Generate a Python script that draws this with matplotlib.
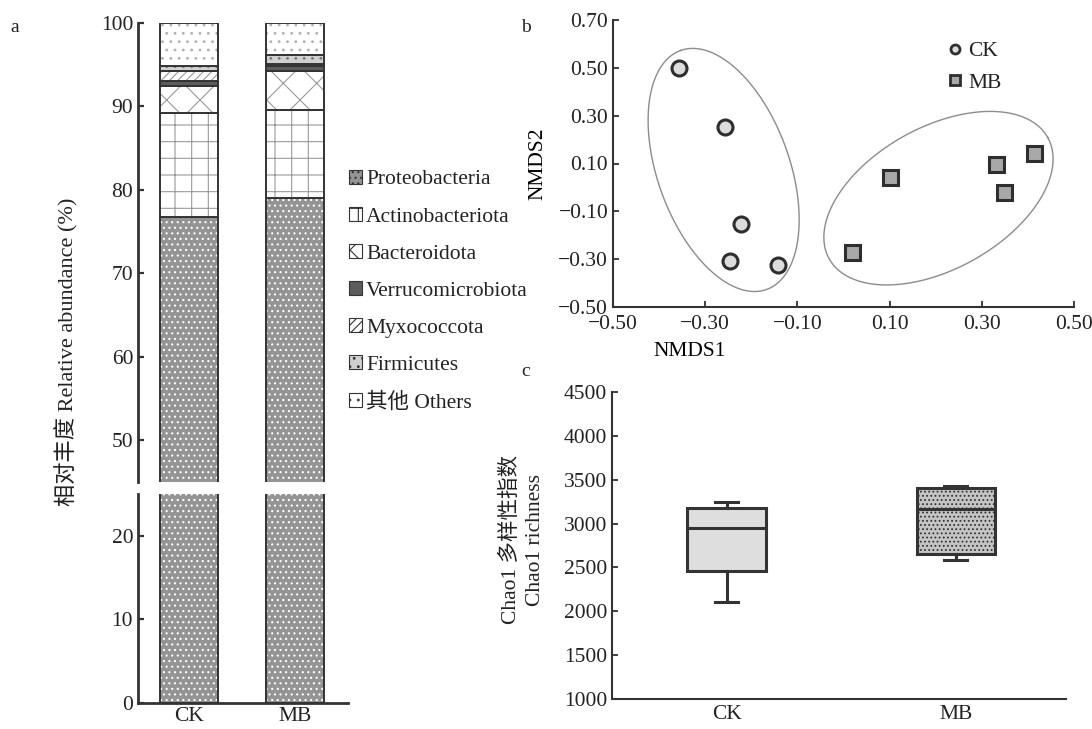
import matplotlib
matplotlib.use('Agg')
import matplotlib.pyplot as plt
import numpy as np
from matplotlib.patches import Patch
from matplotlib.lines import Line2D
from matplotlib.ticker import FuncFormatter

#----------------------------------------------------------------------
# Data
#----------------------------------------------------------------------
groups = ['CK', 'MB']
phyla = ['Proteobacteria', 'Actinobacteriota', 'Bacteroidota',
         'Verrucomicrobiota', 'Myxococcota', 'Firmicutes', '其他 Others']
ck_abund = [76.8, 12.4, 3.3, 0.6, 1.1, 0.7, 5.1]
mb_abund = [79.0, 10.6, 4.6, 0.6, 0.3, 1.1, 3.8]

ck_nmds1 = [-0.356, -0.257, -0.223, -0.247, -0.143]
ck_nmds2 = [0.498, 0.253, -0.155, -0.307, -0.323]
mb_nmds1 = [0.018, 0.101, 0.330, 0.348, 0.413]
mb_nmds2 = [-0.270, 0.044, 0.100, -0.019, 0.145]

chao_whislo = [2104, 2585]
chao_q1 = [2462, 2654]
chao_med = [2950, 3165]
chao_q3 = [3181, 3404]
chao_whishi = [3250, 3423]

#----------------------------------------------------------------------
# General style
#----------------------------------------------------------------------
plt.rcParams['font.family'] = ['Liberation Serif', 'Noto Sans CJK SC']
plt.rcParams['font.size'] = 15.5
plt.rcParams['hatch.linewidth'] = 0.8
plt.rcParams['text.color'] = '#222222'
plt.rcParams['xtick.color'] = '#333333'
plt.rcParams['ytick.color'] = '#333333'
plt.rcParams['xtick.labelcolor'] = '#222222'
plt.rcParams['ytick.labelcolor'] = '#222222'
DARK = '#333333'
FS = 15.5

W, H = 1092, 729
fig = plt.figure(figsize=(W / 100, H / 100), dpi=100)


def fpos(x0, y0, x1, y1):
    # pixel box (top-left origin) -> figure fraction rect
    return [x0 / W, 1 - y1 / H, (x1 - x0) / W, (y1 - y0) / H]


def minus_fmt(v, _):
    return f'{v:.2f}'.replace('-', '\u2212')


#----------------------------------------------------------------------
# (a) stacked bars with broken axis
#----------------------------------------------------------------------
styles = [('#949494', '...', 'white'),
          ('white', '+', '#9a9a9a'),
          ('white', 'x', '#9a9a9a'),
          ('#5c5c5c', '', '#5c5c5c'),
          ('white', '////', '#9a9a9a'),
          ('#d0d0d0', '..', '#7a7a7a'),
          ('white', '..', '#b0b0b0')]

ax_hi = fig.add_axes(fpos(138, 23, 348, 482))
ax_lo = fig.add_axes(fpos(138, 494, 348, 703))
xb = np.arange(len(groups))
abund = np.array([ck_abund, mb_abund])
for ax in (ax_hi, ax_lo):
    bottom = np.zeros(len(groups))
    for i, name in enumerate(phyla):
        face, hatch, hc = styles[i]
        ax.bar(xb, abund[:, i], 0.55, bottom=bottom, color=face, hatch=hatch,
               edgecolor=hc, linewidth=0)
        ax.bar(xb, abund[:, i], 0.55, bottom=bottom, fill=False,
               edgecolor=DARK, linewidth=1.4)
        bottom += abund[:, i]
    ax.set_xlim(-0.48, 1.5)
    for s in ('top', 'right'):
        ax.spines[s].set_visible(False)
    for s in ('left', 'bottom'):
        ax.spines[s].set_linewidth(2.0)
        ax.spines[s].set_color(DARK)
    ax.tick_params(axis='y', direction='in', length=4, width=1.6, labelsize=FS)

ax_hi.set_ylim(45, 100)
ax_hi.set_yticks([50, 60, 70, 80, 90, 100])
ax_hi.spines['bottom'].set_visible(False)
ax_hi.tick_params(axis='x', bottom=False, labelbottom=False)
ax_lo.set_ylim(0, 25)
ax_lo.set_yticks([0, 10, 20])
ax_lo.set_xticks(xb, groups)
ax_lo.tick_params(axis='x', length=0, pad=3, labelsize=FS)

fig.text(67 / W, 1 - 352 / H, '相对丰度 Relative abundance (%)', rotation=90,
         ha='center', va='center', fontsize=16)

handles = [Patch(facecolor=f, hatch=h, edgecolor=DARK, linewidth=0.8)
           for f, h, hc in styles]
fig.legend(handles, phyla, loc='upper left',
           bbox_to_anchor=(349 / W, 1 - 170 / H), frameon=False,
           handlelength=0.6, handleheight=0.6, handletextpad=0.2,
           labelspacing=0.82, borderaxespad=0, borderpad=0, fontsize=FS)

#----------------------------------------------------------------------
# (b) NMDS
#----------------------------------------------------------------------
ax_b = fig.add_axes(fpos(613, 20, 1074, 307))
ax_b.set_xlim(-0.5, 0.5)
ax_b.set_ylim(-0.5, 0.7)
ax_b.set_xticks(np.arange(-0.5, 0.51, 0.2))
ax_b.set_yticks(np.arange(-0.5, 0.71, 0.2))
ax_b.xaxis.set_major_formatter(FuncFormatter(minus_fmt))
ax_b.yaxis.set_major_formatter(FuncFormatter(minus_fmt))
for s in ('top', 'right'):
    ax_b.spines[s].set_visible(False)
for s in ('left', 'bottom'):
    ax_b.spines[s].set_linewidth(1.5)
    ax_b.spines[s].set_color(DARK)
ax_b.tick_params(direction='in', length=4, width=1.3, labelsize=FS)
ax_b.tick_params(axis='x', pad=6)


def draw_ellipse(ax, cx, cy, a_px, b_px, ang):
    bb = ax.get_window_extent()
    sx = bb.width / np.ptp(ax.get_xlim())
    sy = bb.height / np.ptp(ax.get_ylim())
    t = np.linspace(0, 2 * np.pi, 300)
    th = np.deg2rad(ang)
    u, v = a_px * np.cos(t), b_px * np.sin(t)
    X = u * np.cos(th) - v * np.sin(th)
    Y = u * np.sin(th) + v * np.cos(th)
    ax.plot(cx + X / sx, cy + Y / sy, color='#8c8c8c', lw=1.0, zorder=1)


draw_ellipse(ax_b, -0.260, 0.073, 127, 66, 109.8)
draw_ellipse(ax_b, 0.206, -0.045, 125, 71, 29.0)

ax_b.plot(ck_nmds1, ck_nmds2, 'o', ms=10.8, mfc='#dcdcdc', mec='#2e2e2e',
          mew=2.2, zorder=3)
ax_b.plot(mb_nmds1, mb_nmds2, 's', ms=10.8, mfc='#a8a8a8', mec='#2e2e2e',
          mew=2.2, zorder=3)

leg_h = [Line2D([], [], ls='', marker='o', ms=6.5, mfc='#dcdcdc', mec='#2e2e2e', mew=2),
         Line2D([], [], ls='', marker='s', ms=6.5, mfc='#a8a8a8', mec='#2e2e2e', mew=2)]
ax_b.legend(leg_h, groups, loc='upper left',
            bbox_to_anchor=((946 - 613) / 461, 1 - (41 - 20) / 287),
            frameon=False, handlelength=0.8, handletextpad=0.25, labelspacing=0.55,
            borderaxespad=0, borderpad=0, fontsize=FS)

ax_b.set_xlabel('NMDS1', fontsize=FS)
ax_b.xaxis.set_label_coords((690 - 613) / 461, -(342 - 307) / 287)
ax_b.set_ylabel('NMDS2', fontsize=FS)
ax_b.yaxis.set_label_coords(-(613 - 547) / 461, 0.5)

#----------------------------------------------------------------------
# (c) Chao1 boxplot
#----------------------------------------------------------------------
ax_c = fig.add_axes(fpos(612, 392, 1066, 699))
stats = [dict(whislo=chao_whislo[i], q1=chao_q1[i], med=chao_med[i],
              q3=chao_q3[i], whishi=chao_whishi[i], fliers=[], label=g)
         for i, g in enumerate(groups)]
bp = ax_c.bxp(stats, positions=[1, 2], widths=0.344, patch_artist=True,
              capwidths=0.1,
              boxprops=dict(facecolor='#dedede', edgecolor=DARK, linewidth=2.2),
              medianprops=dict(color=DARK, linewidth=2.2),
              whiskerprops=dict(color=DARK, linewidth=2.2),
              capprops=dict(color=DARK, linewidth=2.2))
bp['boxes'][1].set_facecolor('#c4c4c4')
bp['boxes'][1].set_hatch('....')
ax_c.set_xlim(0.5, 2.48)
ax_c.set_ylim(1000, 4500)
ax_c.set_yticks(np.arange(1000, 4501, 500))
for s in ('top', 'right'):
    ax_c.spines[s].set_visible(False)
for s in ('left', 'bottom'):
    ax_c.spines[s].set_linewidth(1.5)
    ax_c.spines[s].set_color(DARK)
ax_c.tick_params(axis='y', direction='in', length=4, width=1.3, labelsize=FS)
ax_c.tick_params(axis='x', length=0, pad=4, labelsize=FS)

fig.text(523 / W, 1 - 540 / H, 'Chao1 多样性指数\nChao1 richness', rotation=90,
         ha='center', va='center', multialignment='center', linespacing=1.38,
         fontsize=FS)

#----------------------------------------------------------------------
# panel letters
#----------------------------------------------------------------------
fig.text(10 / W, 1 - 27 / H, 'a', ha='left', va='center', fontsize=14)
fig.text(521 / W, 1 - 27 / H, 'b', ha='left', va='center', fontsize=14)
fig.text(521 / W, 1 - 372 / H, 'c', ha='left', va='center', fontsize=14)

fig.savefig('out.png', dpi=100)
